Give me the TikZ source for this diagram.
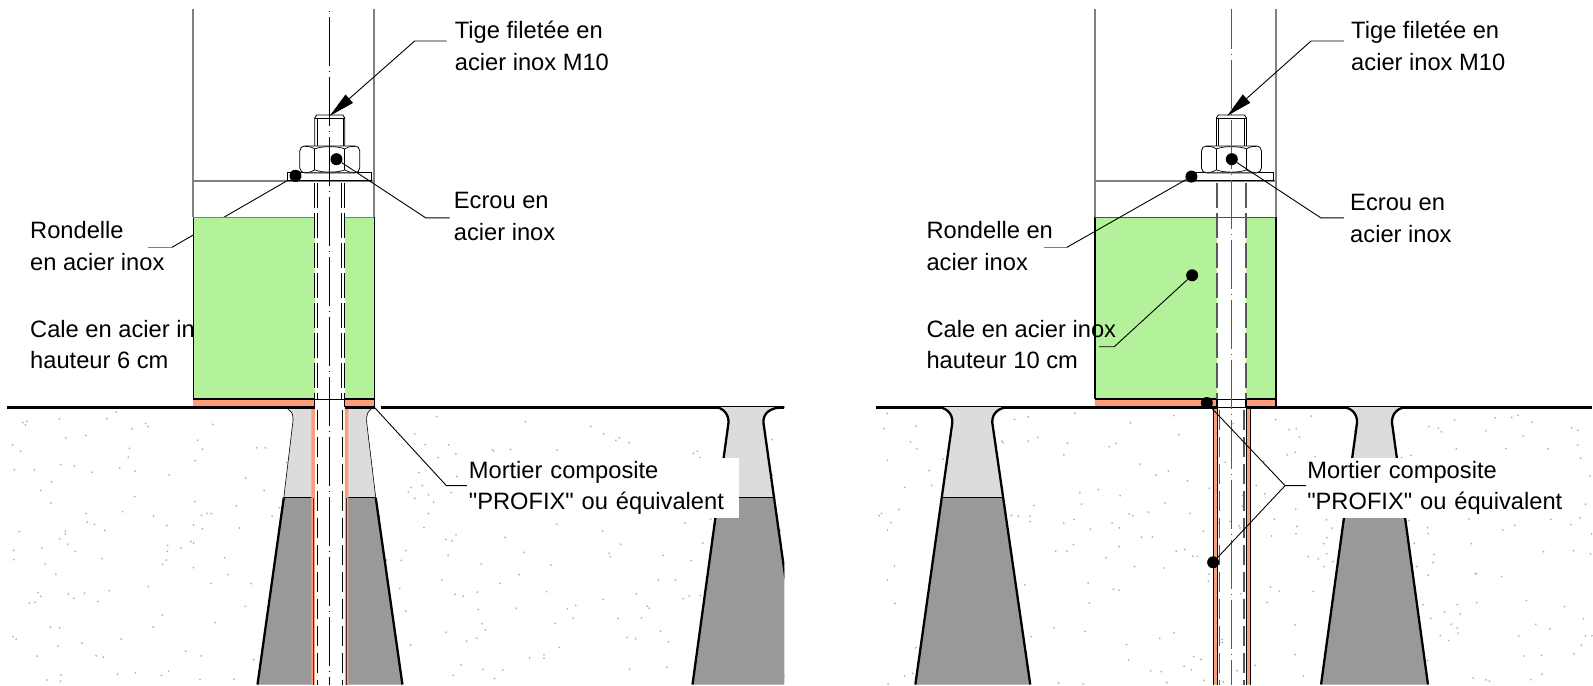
\documentclass[tikz,border=0pt]{standalone}
\usepackage{fontspec}
\newfontfamily\reperefont{Liberation Sans}
\usetikzlibrary{arrows.meta, positioning, calc}
\definecolor{CaleGreen}{HTML}{B3F29A}
\definecolor{SemelleOrange}{HTML}{FF9C7C}
\definecolor{MortierGray}{HTML}{DCDCDC}
\definecolor{ResineGray}{HTML}{999999}
\definecolor{PostGray}{HTML}{808080}
\tikzset{
    repere/.style={inner sep=0pt, align=left, anchor=north west,
                   font=\reperefont\fontsize{23.7}{31.7}\selectfont},
    mortierbox/.style={repere, fill=white, inner xsep=2pt, inner ysep=3pt, text width=268pt},
    dotmark/.style={circle, fill=black, inner sep=0pt, minimum size=12pt},
    leader/.style={draw=black, line width=0.9pt},
    stub/.style={draw=PostGray, line width=1.5pt},
    post/.style={draw=PostGray, line width=1.9pt},
    ground/.style={draw=black, line width=2.3pt},
    axisline/.style={line width=1.1pt, dash pattern=on 49pt off 5pt on 1pt off 5pt},
    rodline/.style={line width=1.1pt, dash pattern=on 25pt off 5pt},
    hardware/.style={draw=black, line width=0.8pt, fill=white},
}
% hole profile: top left, neck left, neck right, top right, foot left, foot right
\newcommand{\trou}[6]{
    \fill[ResineGray] (#1,407.5) .. controls (#2-6,407.5) and (#2+0.5,414) .. (#2,423) -- (#5,685)
        -- (#6,685) -- (#3,423) .. controls (#3-0.5,414) and (#3+6,407.5) .. (#4,407.5) -- cycle;
    \begin{scope}
        \clip (0,0) rectangle (1593,498);
        \fill[MortierGray] (#1,407.5) .. controls (#2-6,407.5) and (#2+0.5,414) .. (#2,423) -- (#5,685)
            -- (#6,685) -- (#3,423) .. controls (#3-0.5,414) and (#3+6,407.5) .. (#4,407.5) -- cycle;
    \end{scope}
    \begin{scope}
        \clip (#1,407.5) -- (#2,423) -- (#5,685) -- (#6,685) -- (#3,423) -- (#4,407.5) -- cycle;
        \draw[line width=1pt] (#5,498) -- (#6,498);
    \end{scope}
    \draw[ground] (#1,407.5) .. controls (#2-6,407.5) and (#2+0.5,414) .. (#2,423) -- (#5,685);
    \draw[ground] (#6,685) -- (#3,423) .. controls (#3-0.5,414) and (#3+6,407.5) .. (#4,407.5);
}
% stud, nut and washer, drawn around the rod axis
\newcommand{\ecrou}[1]{
    \begin{scope}[xshift=#1pt]
        \draw[hardware] (-15,146) -- (-15,118) -- (-13,115) -- (13,115) -- (15,118) -- (15,146);
        \draw[line width=0.5pt] (-15,118) -- (15,118) (-13,118) -- (-13,146) (13,118) -- (13,146);
        \draw[hardware] (-42,173) rectangle (42,181);
        \draw[hardware, rounded corners=5pt] (-30,146) rectangle (30,173);
        \draw[line width=0.7pt] (-15,149) -- (-15,170) (15,149) -- (15,170);
        \draw[line width=0.7pt] (-25,146.5) .. controls (-20,146.5) .. (-15,149)
            .. controls (-8,146) and (8,146) .. (15,149) .. controls (20,146.5) .. (25,146.5);
        \draw[line width=0.7pt] (-25,172.5) .. controls (-20,172.5) .. (-15,170)
            .. controls (-8,173) and (8,173) .. (15,170) .. controls (20,172.5) .. (25,172.5);
    \end{scope}
}
\begin{document}
\begin{tikzpicture}[x=1pt, y=-1pt]
\path[fill=white] (0,0) rectangle (1593,685);

% speckles of the concrete
\pgfmathsetseed{42}
\foreach \i in {1,...,300}{
    \pgfmathsetmacro{\sx}{8+777*rnd}
    \pgfmathsetmacro{\sy}{412+273*rnd}
    \fill[gray!60] (\sx,\sy) circle (1);
}
\foreach \i in {1,...,320}{
    \pgfmathsetmacro{\sx}{878+715*rnd}
    \pgfmathsetmacro{\sy}{412+273*rnd}
    \fill[gray!60] (\sx,\sy) circle (1);
}

%% left detail
\coordinate (endTigeL) at (447,41);
\coordinate (kneeTigeL) at (415,41);
\coordinate (tipTigeL) at (330,116);
\coordinate (endEcrouL) at (450,218);
\coordinate (kneeEcrouL) at (426,218);
\coordinate (endRondL) at (148,247.7);
\coordinate (kneeRondL) at (171.7,247.7);
\coordinate (endMortL) at (468,486);
\coordinate (kneeMortL) at (446.7,486);
\coordinate (startMortL) at (375,408);

\draw[post] (193.5,9) -- (193.5,217) (374.5,9) -- (374.5,217);
\draw[post] (193.5,181) -- (374.5,181);

\node[repere] (lblCaleL) at (30,320) {Cale en acier inox\\hauteur 6 cm};
\node[repere] (lblRondL) at (30,221.5) {Rondelle\\en acier inox};
\node[dotmark] (dotRondL) at (295.7,176) {};
\draw[leader] (dotRondL) -- (kneeRondL);
\draw[stub] (kneeRondL) -- (endRondL);

% shim and bedding plate
\fill[CaleGreen] (193.5,217.6) rectangle (374.5,399);
\fill[white] (315,182) rectangle (345,399);
\fill[SemelleOrange] (193.5,399) rectangle (315,407);
\fill[SemelleOrange] (345,399) rectangle (375,407);
\draw[line width=1.3pt] (193.5,217.6) -- (193.5,399) (374.5,217.6) -- (374.5,399);
\draw[post] (193.5,217.6) -- (315,217.6) (345,217.6) -- (374.5,217.6);
\draw[line width=1.3pt] (193.5,399.3) -- (315,399.3) -- (315,407) (345,407) -- (345,399.3) -- (375,399.3) -- (375,407);
\draw[line width=0.7pt] (315,399.3) -- (345,399.3);

% anchor hole under the rod
\fill[MortierGray] (282,408) .. controls (292,408) and (294,415) .. (293,423) -- (284,498) -- (312,498) -- (312,408) -- cycle;
\fill[MortierGray] (375,408) .. controls (368,409) and (366,416) .. (367,423) -- (376,498) -- (345,498) -- (345,408) -- cycle;
\fill[ResineGray] (284,498) -- (257.7,685) -- (312,685) -- (312,498) -- cycle;
\fill[ResineGray] (376,498) -- (402.7,685) -- (345,685) -- (345,498) -- cycle;
\draw[line width=0.6pt] (282,408) .. controls (292,408) and (294,415) .. (293,423) -- (284,498);
\draw[line width=0.6pt] (375,408) .. controls (368,409) and (366,416) .. (367,423) -- (376,498);
\draw[line width=1pt] (284,498) -- (312,498) (345,498) -- (376,498);
\draw[ground] (284,498) -- (257.7,685) (376,498) -- (402.7,685);
\fill[white] (315,408) rectangle (345,685);
\fill[SemelleOrange] (311.7,408) rectangle (315,685) (345,408) rectangle (348.5,685);
\draw[draw=black!70!SemelleOrange, line width=0.8pt] (313.3,498) -- (313.3,685) (346.8,498) -- (346.8,685);

\draw[ground] (7,407.7) -- (315,407.7) (345,407.7) -- (375,407.7) (381,407.7) -- (785,407.7);
\begin{scope}
    \clip (0,0) rectangle (785,685);
    \trou{715}{729}{764}{785}{693}{801}
\end{scope}

% rod
\draw[rodline] (315,183) -- (315,399) (318,183) -- (318,399) (342,183) -- (342,399) (345,183) -- (345,399);
\draw[rodline, dash pattern=on 20pt off 7pt] (317.6,410) -- (317.6,685) (342.4,410) -- (342.4,685);
\draw[axisline, dash phase=52pt] (330,9) -- (330,685);

\ecrou{330}
\draw[axisline, dash phase=52pt] (330,9) -- (330,181);
\node[dotmark] (dotRondLtop) at (295.7,176) {};
\node[dotmark] (dotEcrouL) at (336.7,159.3) {};
\draw[leader] (dotEcrouL) -- (kneeEcrouL) -- (endEcrouL);
\draw[leader, -{Triangle[length=26pt,width=11pt]}] (endTigeL) -- (kneeTigeL) -- (tipTigeL);
\draw[leader] (startMortL) -- (kneeMortL) -- (endMortL);

\node[repere] (lblTigeL) at (455,21) {Tige filetée en\\acier inox M10};
\node[repere] (lblEcrouL) at (454,192.5) {Ecrou en\\acier inox};
\node[mortierbox] (lblMortL) at (467,458) {Mortier composite\\"PROFIX" ou équivalent};

%% right detail
\coordinate (endTigeR) at (1345,41);
\coordinate (kneeTigeR) at (1312,41);
\coordinate (tipTigeR) at (1228,116);
\coordinate (endEcrouR) at (1345,218);
\coordinate (kneeEcrouR) at (1321.7,218);
\coordinate (endRondR) at (1045,247.7);
\coordinate (kneeRondR) at (1067.3,247.7);
\coordinate (endCaleR) at (1100,347);
\coordinate (kneeCaleR) at (1115,347);
\coordinate (endMortR) at (1307,486);
\coordinate (kneeMortR) at (1286,486);

\draw[post] (1095.7,9) -- (1095.7,217) (1277,9) -- (1277,217);
\draw[post] (1095.7,181) -- (1277,181);

\fill[CaleGreen] (1095.7,217.6) rectangle (1277,399);
\fill[white] (1218,182) rectangle (1247,399);
\fill[SemelleOrange] (1095.7,399) rectangle (1218,407) (1247,399) rectangle (1277,407);
\draw[line width=1.3pt] (1095.7,217.6) -- (1095.7,399) (1277,217.6) -- (1277,399);
\draw[draw=black!70, line width=1.5pt] (1095.7,217.6) -- (1277,217.6);
\draw[line width=1.3pt] (1095.7,399.3) -- (1218,399.3) -- (1218,407) (1247,407) -- (1247,399.3) -- (1277,399.3) -- (1277,407);
\draw[line width=0.7pt] (1218,399.3) -- (1247,399.3) (1218,407.7) -- (1247,407.7);

\fill[SemelleOrange] (1214,408) rectangle (1218,685) (1247,408) rectangle (1251,685);
\draw[line width=0.7pt] (1214,408) -- (1214,685) (1218,408) -- (1218,685) (1247,408) -- (1247,685) (1251,408) -- (1251,685);

\draw[ground] (877,407.7) -- (1218,407.7) (1247,407.7) -- (1593,407.7);
\trou{938}{953}{993}{1010}{916}{1031}
\trou{1343}{1358}{1393}{1408}{1322}{1429}

\draw[rodline, draw=black!65, line width=1.3pt] (1218,183) -- (1218,399) (1247,183) -- (1247,399);
\draw[rodline, draw=black!65, line width=1.7pt, dash pattern=on 20pt off 7pt] (1220.5,410) -- (1220.5,685) (1245,410) -- (1245,685);
\draw[axisline, draw=black!65, dash phase=9pt] (1232.3,9) -- (1232.3,685);

\ecrou{1232.3}
\draw[axisline, draw=black!65, dash phase=9pt] (1232.3,9) -- (1232.3,181);

\node[dotmark] (dotEcrouR) at (1232.7,159.3) {};
\node[dotmark] (dotRondR) at (1192.3,176.7) {};
\node[dotmark] (dotCaleR) at (1193,275.5) {};
\node[dotmark] (dotMortRa) at (1207.7,403.3) {};
\node[dotmark] (dotMortRb) at (1214,562.7) {};
\draw[leader] (dotEcrouR) -- (kneeEcrouR) -- (endEcrouR);
\draw[leader] (dotRondR) -- (kneeRondR);
\draw[stub] (kneeRondR) -- (endRondR);
\draw[leader] (dotCaleR) -- (kneeCaleR) -- (endCaleR);
\draw[leader, -{Triangle[length=26pt,width=11pt]}] (endTigeR) -- (kneeTigeR) -- (tipTigeR);

\node[repere] (lblTigeR) at (1352,21) {Tige filetée en\\acier inox M10};
\node[repere] (lblEcrouR) at (1351,194) {Ecrou en\\acier inox};
\node[repere] (lblRondR) at (927,221.5) {Rondelle en\\acier inox};
\node[repere] (lblCaleR) at (927,320) {Cale en acier inox\\hauteur 10 cm};
\node[mortierbox] (lblMortR) at (1306,458) {Mortier composite\\"PROFIX" ou équivalent};
\draw[leader] (dotMortRa) -- (kneeMortR) -- (endMortR);
\draw[leader] (dotMortRb) -- (kneeMortR);
\end{tikzpicture}
\end{document}
